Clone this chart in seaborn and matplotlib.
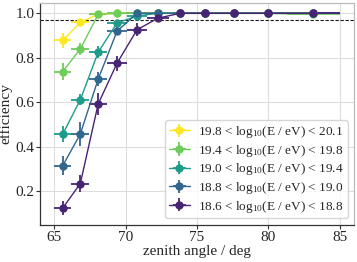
import numpy as np
import pandas as pd
import matplotlib
matplotlib.use('Agg')
import matplotlib.pyplot as plt
import seaborn as sns

# zenith bins (deg)
bin_edges = [65.0, 66.2, 67.45, 68.7, 70.1, 71.5, 73.0, 74.6, 76.5, 78.7, 81.3, 85.0]

energy_labels = [
    r'19.8 < $\mathrm{log_{10}}$(E / eV) < 20.1',
    r'19.4 < $\mathrm{log_{10}}$(E / eV) < 19.8',
    r'19.0 < $\mathrm{log_{10}}$(E / eV) < 19.4',
    r'18.8 < $\mathrm{log_{10}}$(E / eV) < 19.0',
    r'18.6 < $\mathrm{log_{10}}$(E / eV) < 18.8',
]

eff_e198 = [0.878, 0.959, 0.996, 1.0, 1.0, 1.0, 1.0, 1.0, 1.0, 1.0, 1.0]
eff_e194 = [0.738, 0.840, 0.995, 1.0, 1.0, 1.0, 1.0, 1.0, 1.0, 1.0, 0.995]
eff_e190 = [0.457, 0.611, 0.825, 0.957, 0.988, 1.0, 1.0, 1.0, 1.0, 1.0, 1.0]
eff_e188 = [0.315, 0.457, 0.704, 0.920, 1.0, 1.0, 1.0, 1.0, 1.0, 1.0, 1.0]
eff_e186 = [0.124, 0.234, 0.592, 0.776, 0.926, 0.978, 1.0, 1.0, 1.0, 1.0, 1.0]

err_e198 = [0.034, 0.014, 0.004, 0.002, 0.0, 0.0, 0.0, 0.0, 0.0, 0.0, 0.0]
err_e194 = [0.037, 0.026, 0.005, 0.002, 0.0, 0.0, 0.0, 0.0, 0.0, 0.0, 0.004]
err_e190 = [0.035, 0.025, 0.026, 0.013, 0.008, 0.0, 0.0, 0.0, 0.0, 0.0, 0.0]
err_e188 = [0.043, 0.055, 0.030, 0.018, 0.003, 0.0, 0.0, 0.0, 0.0, 0.0, 0.0]
err_e186 = [0.031, 0.040, 0.050, 0.034, 0.030, 0.015, 0.003, 0.0, 0.0, 0.0, 0.0]

threshold = 0.97

sns.set_theme(style='whitegrid')
plt.rcParams['font.family'] = ['Liberation Serif', 'DejaVu Serif']
plt.rcParams['mathtext.fontset'] = 'custom'
plt.rcParams['mathtext.rm'] = 'Liberation Serif'

edges = np.array(bin_edges)
centers = 0.5 * (edges[1:] + edges[:-1])
half = 0.5 * (edges[1:] - edges[:-1])

effs = [eff_e198, eff_e194, eff_e190, eff_e188, eff_e186]
errs = [err_e198, err_e194, err_e190, err_e188, err_e186]
colors = [plt.cm.viridis(v) for v in np.linspace(0.1, 1.0, 5)][::-1]

fig = plt.figure(figsize=(3.57, 2.62), dpi=100)
ax = fig.add_axes([0.112, 0.141, 0.88, 0.848])

for lab, e, de, c in zip(energy_labels, effs, errs, colors):
    ax.errorbar(centers, e, xerr=half, yerr=de, fmt='o-', color=c, ms=5,
                lw=1.0, elinewidth=1.3, capsize=0, label=lab)

ax.axhline(threshold, color='k', ls='--', lw=0.8, dashes=(3, 1.5))

ax.set_xlim(64.0, 86.0)
ax.set_ylim(0.047, 1.047)
ax.set_xticks([65, 70, 75, 80, 85])
ax.set_yticks([0.2, 0.4, 0.6, 0.8, 1.0])
ax.set_xlabel('zenith angle / deg', fontsize=11, labelpad=1)
ax.set_ylabel('efficiency', fontsize=11, labelpad=2)
ax.tick_params(labelsize=11, length=3, width=0.8, pad=1, color='#333333')
ax.tick_params(axis='both', which='both', bottom=True, left=True)
ax.grid(True, color='#dddddd', lw=0.8)

for s in ['left', 'bottom']:
    ax.spines[s].set_color('#333333')
    ax.spines[s].set_linewidth(0.9)
for s in ['top', 'right']:
    ax.spines[s].set_color('#bbbbbb')
    ax.spines[s].set_linewidth(0.9)

ax.legend(loc='lower right', fontsize=9.5, frameon=True, handlelength=1.6,
          borderpad=0.3, labelspacing=0.2, handletextpad=0.6,
          borderaxespad=0.5)

plt.savefig('out.png', dpi=100)
plt.close()
